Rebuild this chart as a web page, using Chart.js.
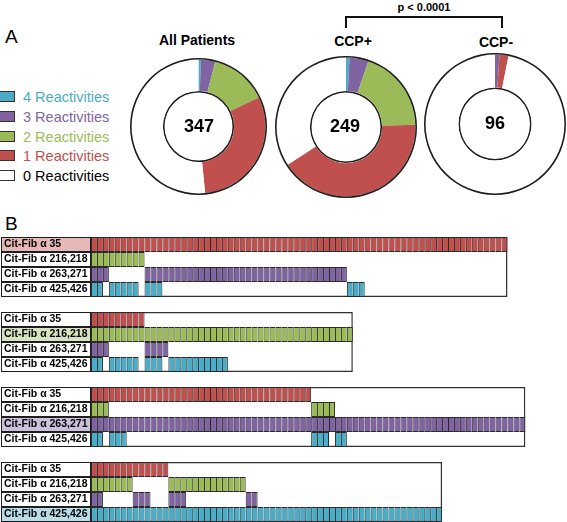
<!DOCTYPE html>
<html><head><meta charset="utf-8">
<script src="https://cdn.jsdelivr.net/npm/chart.js@4/dist/chart.umd.min.js"></script>
<style>
body{margin:0;width:567px;height:522px;position:relative;overflow:hidden;background:#fff;font-family:"Liberation Sans",Arial,sans-serif;}
.abs{position:absolute;white-space:nowrap;}
.c{transform:translate(-50%,-50%);}
canvas{position:absolute;display:block;}
.lg{position:absolute;left:-1px;height:19px;display:flex;align-items:center;font-size:14.5px;}
.lg span.b{display:inline-block;width:14px;height:9px;border:1px solid #333;margin-right:8px;}
</style></head><body>

<div class="abs" style="left:5px;top:26px;font-size:19px;">A</div>
<div class="abs" style="left:5px;top:213px;font-size:19px;">B</div>

<div class="abs c" style="left:197px;top:40px;font-size:14px;font-weight:bold;">All Patients</div>
<div class="abs c" style="left:353px;top:41px;font-size:14px;font-weight:bold;">CCP+</div>
<div class="abs c" style="left:496px;top:42px;font-size:14px;font-weight:bold;">CCP-</div>

<div class="abs c" style="left:424px;top:7px;font-size:11px;font-weight:bold;">p &lt; 0.0001</div>
<div class="abs" style="left:345px;top:16px;width:158px;height:2px;background:#111;"></div>
<div class="abs" style="left:345px;top:16px;width:2px;height:12px;background:#111;"></div>
<div class="abs" style="left:501px;top:16px;width:2px;height:12px;background:#111;"></div>

<div id="legend"></div>

<canvas id="pieAll" width="137" height="137" style="left:130px;top:58px;"></canvas>
<canvas id="piePos" width="142" height="142" style="left:275px;top:56px;"></canvas>
<canvas id="pieNeg" width="142" height="142" style="left:424px;top:53px;"></canvas>

<div class="abs c" style="left:199px;top:126px;font-size:18px;font-weight:bold;">347</div>
<div class="abs c" style="left:345px;top:126px;font-size:18px;font-weight:bold;">249</div>
<div class="abs c" style="left:495px;top:123px;font-size:18px;font-weight:bold;">96</div>

<canvas id="grid" width="569" height="290" style="left:-2px;top:232px;"></canvas>

<script>
// ---------- DATA ----------
const reactivityLabels = ['4 Reactivities','3 Reactivities','2 Reactivities','1 Reactivities','0 Reactivities'];
const allPatients = [2, 12, 48, 106, 179];
const ccpPositive = [2, 11, 48, 103, 85];
const ccpNegative = [0, 1, 0, 2, 93];

const peptideRows = ['Cit-Fib α 35','Cit-Fib α 216,218','Cit-Fib α 263,271','Cit-Fib α 425,426'];
const groupSizes = [70, 44, 73, 59];
// positive patient columns per row, as [first, last] runs
const group1Runs = [[[0,69]], [[0,8]], [[0,2],[9,42]], [[0,1],[3,7],[9,11],[43,45]]];
const group2Runs = [[[0,8]], [[0,43]], [[0,2],[9,12]], [[0,1],[3,7],[9,11],[13,22]]];
const group3Runs = [[[0,36]], [[0,2],[37,40]], [[0,72]], [[0,1],[3,5],[37,39],[41,42]]];
const group4Runs = [[[0,12]], [[0,6],[13,25]], [[0,1],[7,9],[13,15],[26,27]], [[0,58]]];

// ---------- STYLE ----------
const sliceColors = ['#4bacc6','#8064a2','#9bbb59','#c0504d','#ffffff'];
const rowColors = ['#c0504d','#9bbb59','#8064a2','#4bacc6'];
const rowLight = ['#e6b9b8','#d7e4bd','#ccc1da','#b7dde8'];
const lineColor = '#1e1e1e';

// legend (HTML)
const legendTops = [87, 107, 127, 146, 166];
const legendText = ['#4bacc6','#8064a2','#9bbb59','#c0504d','#000000'];
const lg = document.getElementById('legend');
reactivityLabels.forEach((t,i)=>{
  const d = document.createElement('div');
  d.className='lg'; d.style.top = legendTops[i]+'px'; d.style.color = legendText[i];
  d.innerHTML = '<span class="b" style="background:'+sliceColors[i]+'"></span>'+t;
  lg.appendChild(d);
});

function donut(id, values, cutout){
  const cv = document.getElementById(id);
  const R = cv.width/2, ring = 1.6;
  new Chart(cv, {
    type:'doughnut',
    data:{ labels: reactivityLabels, datasets:[
      {data:[1], backgroundColor:[lineColor], weight:ring, borderWidth:0},
      {data:values, backgroundColor:sliceColors, weight:R-cutout-2*ring, borderWidth:0},
      {data:[1], backgroundColor:[lineColor], weight:ring, borderWidth:0}
    ]},
    options:{responsive:false, animation:false, cutout:cutout, layout:{padding:0},
      plugins:{legend:{display:false}, tooltip:{enabled:false}}}
  });
}
donut('pieAll', allPatients, 34);
donut('piePos', ccpPositive, 34.5);
donut('pieNeg', ccpNegative, 35);

// ---------- PANEL B ----------
const groups = [group1Runs, group2Runs, group3Runs, group4Runs];
const rowIds = [], rowText = [];
groups.forEach((g,gi)=>{
  peptideRows.forEach((n,ri)=>{ rowIds.push('g'+gi+'r'+ri); rowText.push(n); });
  if (gi < groups.length-1){ rowIds.push('gap'+gi); rowText.push(''); }
});
const X_MIN = -15.126, X_MAX = 79.83;
const boxData = [], cellData = [], labelData = [];
groups.forEach((g,gi)=>{
  g.forEach((runs,ri)=>{
    const id = 'g'+gi+'r'+ri;
    boxData.push({x:[X_MIN, groupSizes[gi]], y:id, first:ri===0, last:ri===3});
    labelData.push({x:[X_MIN, 0], y:id, hl:ri===gi, row:ri});
    runs.forEach(([s,e])=>{
      for (let k=s;k<=e;k++) cellData.push({x:[k,k+1], y:id, row:ri, end:k===e});
    });
  });
});

const common = {grouped:false, barPercentage:1, categoryPercentage:1, borderSkipped:false, inflateAmount:0};
new Chart(document.getElementById('grid'), {
  type:'bar',
  data:{ labels: rowIds, datasets:[
    Object.assign({label:'labels', data:labelData, order:1,
      backgroundColor:c=> c.raw && c.raw.hl ? rowLight[c.raw.row] : '#ffffff',
      borderColor:lineColor, borderWidth:1}, common),
    Object.assign({label:'cells', data:cellData, order:2,
      backgroundColor:c=> c.raw ? rowColors[c.raw.row] : '#fff',
      borderColor:'#2a2a2a',
      borderWidth:c=> c.raw ? {top:1,bottom:1,left:1,right:c.raw.end?1:0} : 1}, common),
    Object.assign({label:'boxes', data:boxData, order:3,
      backgroundColor:'#ffffff', borderColor:'#333333',
      borderWidth:c=> c.raw ? {left:1.5,right:1.5,top:c.raw.first?1.5:0,bottom:c.raw.last?1.5:0} : 0}, common)
  ]},
  options:{
    indexAxis:'y', responsive:false, animation:false,
    layout:{autoPadding:false, padding:{left:3,right:1,top:5,bottom:0}},
    plugins:{legend:{display:false}, tooltip:{enabled:false}},
    scales:{
      x:{type:'linear', min:X_MIN, max:X_MAX, display:false},
      y:{type:'category', offset:true, grid:{display:false}, border:{display:false},
         afterFit:(s)=>{ s.width = 0; s.paddingTop = 0; s.paddingBottom = 0; s.paddingLeft = 0; s.paddingRight = 0; },
         ticks:{mirror:true, z:1, padding:3, color:'#000', autoSkip:false,
           font:{family:'Liberation Sans', weight:'bold', size:10.5},
           callback:(v,i)=>rowText[i]}}
    }
  }
});
</script>
</body></html>
